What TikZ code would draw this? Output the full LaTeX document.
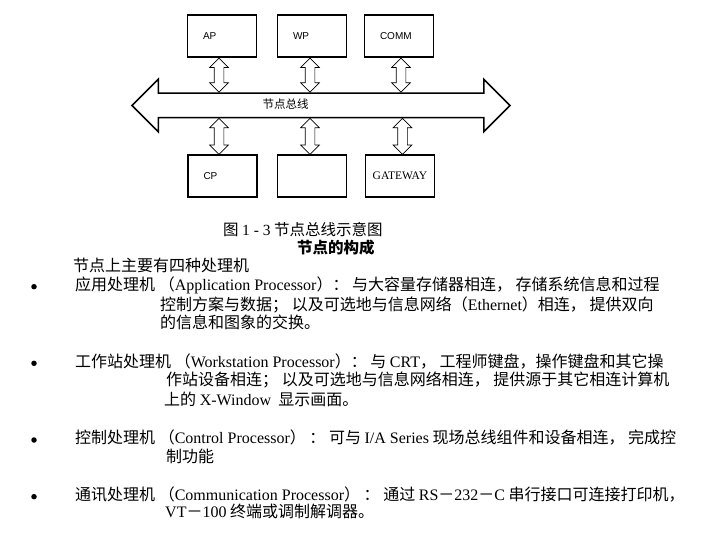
\documentclass[tikz,border=0pt]{standalone}
\usepackage{fontspec}
\setmainfont{Noto Sans CJK SC}
\newfontfamily\latnfont{Liberation Serif}
\newfontfamily\boxfont{Liberation Sans}
\newcommand{\latn}[1]{{\latnfont #1}}
\usetikzlibrary{shapes.arrows}

\begin{document}
\begin{tikzpicture}[x=1bp,y=-1bp,
  unit/.style={draw,line width=1.4bp,minimum width=69bp,minimum height=42bp,inner sep=0,
    text width=38bp,align=left,font=\boxfont\fontsize{10bp}{11bp}\selectfont},
  link/.style={double arrow,draw,line width=0.7bp,rotate=90,minimum height=34bp,
    inner sep=4.5bp,double arrow head extend=4.5bp},
  line/.style={anchor=west,inner sep=0,text height=0.88em,text depth=0.12em,
    font=\fontsize{16bp}{18bp}\selectfont},
  dot/.style={circle,fill,inner sep=0,minimum size=5.5bp}]
\useasboundingbox (0,0) rectangle (720,540);

% node bus
\node[double arrow,draw,line width=1.5bp,minimum height=378bp,inner sep=11.5bp,
  double arrow head extend=14bp] (bus) at (321,105.5) {};
\node[font=\fontsize{11.5bp}{12bp}\selectfont,inner sep=0] (buslabel) at (285.5,104) {节点总线};

\node[unit] (ap) at (222,36) {AP};
\node[unit] (wp) at (312,36) {WP};
\node[unit] (comm) at (399,36) {COMM};
\node[unit] (cp) at (222.5,176) {CP};
\node[unit] (spare) at (312,176) {};
\node[unit,text width=62bp,align=center,font=\latnfont\fontsize{11.5bp}{13bp}\selectfont]
  (gateway) at (400,176) {GATEWAY};

\foreach \b/\dx in {ap/-3,wp/-2,comm/2}
  \path ([xshift=\dx bp]\b.south) -- ([xshift=\dx bp]\b.south |- bus.90) node[midway,link] {};
\foreach \b/\dx in {cp/-3.5,spare/-2,gateway/2.5}
  \path ([xshift=\dx bp]\b.north) -- ([xshift=\dx bp]\b.north |- bus.270) node[midway,link,minimum height=36bp] {};

% caption and title
\node[line,font=\fontsize{15.5bp}{18bp}\selectfont] (caption) at (223,231.7) {图 \latn{1 - 3} 节点总线示意图};
\node[line,font=\bfseries\fontsize{15.5bp}{18bp}\selectfont] (title) at (297,250) {节点的构成};

% processors
\node[line] (intro) at (73,268) {节点上主要有四种处理机};
\node[dot] (dap) at (34,286.7) {};
\node[line] (apa) at (75,286.7) {应用处理机 （\latn{Application Processor}）： 与大容量存储器相连， 存储系统信息和过程};
\node[line] (apb) at (160,306.7) {控制方案与数据； 以及可选地与信息网络（\latn{Ethernet}）相连， 提供双向};
\node[line] (apc) at (160,325) {的信息和图象的交换。};

\node[dot] (dwp) at (34,363.3) {};
\node[line] (wpa) at (75,363.3) {工作站处理机 （\latn{Workstation Processor}）： 与 \latn{CRT}， 工程师键盘，操作键盘和其它操};
\node[line] (wpb) at (166,381.7) {作站设备相连； 以及可选地与信息网络相连， 提供源于其它相连计算机};
\node[line] (wpc) at (164,401.7) {上的 \latn{X-Window}\ \ 显示画面。};

\node[dot] (dcp) at (34,440) {};
\node[line] (cpa) at (75,440) {控制处理机 （\latn{Control Processor}） ： 可与 \latn{I/A Series} 现场总线组件和设备相连， 完成控};
\node[line] (cpb) at (166,458.3) {制功能};

\node[dot] (dco) at (34,496.7) {};
\node[line] (coa) at (75,496.7) {通讯处理机 （\latn{Communication Processor}） ： 通过 \latn{RS}－\latn{232}－\latn{C} 串行接口可连接打印机，};
\node[line] (cob) at (165,513.3) {\latn{VT}－\latn{100} 终端或调制解调器。};

\end{tikzpicture}
\end{document}
